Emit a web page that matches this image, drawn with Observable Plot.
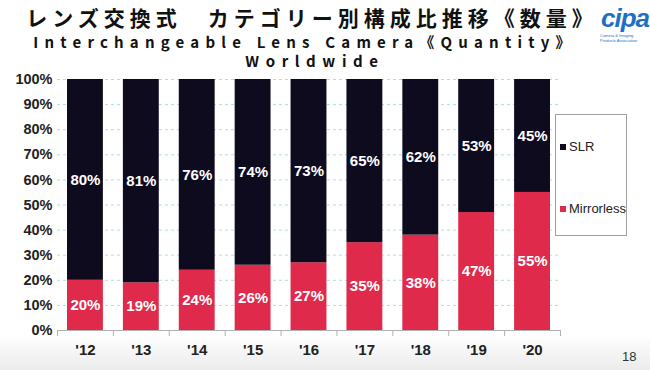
<!DOCTYPE html>
<html>
<head>
<meta charset="utf-8">
<script src="https://cdn.jsdelivr.net/npm/d3@7"></script>
<script src="https://cdn.jsdelivr.net/npm/@observablehq/plot@0.6"></script>
<style>
  html, body { margin: 0; padding: 0; }
  body { width: 650px; height: 370px; overflow: hidden; background: linear-gradient(#ffffff 0%, #ffffff 90%, #ececec 100%); font-family: "Liberation Sans", Arial, sans-serif; }
  #wrap { position: relative; width: 650px; height: 370px; }
  #chart { position: absolute; left: 0; top: 0; }
  .t { position: absolute; white-space: nowrap; color: #111; font-weight: bold; }
  #title { left: 0; width: 624px; text-align: center; top: 4px; font-family: "Noto Sans CJK JP", sans-serif; font-size: 21px; letter-spacing: 5px; line-height: 26px; }
  #sub1 { left: 0; width: 610px; text-align: center; top: 33px; font-family: "Noto Sans CJK JP", sans-serif; font-size: 15px; letter-spacing: 6.2px; line-height: 18px; }
  #sub2 { left: 0; width: 630px; text-align: center; top: 52px; font-family: "Noto Sans CJK JP", sans-serif; font-size: 15px; letter-spacing: 6.6px; line-height: 18px; }
  #logo { position: absolute; left: 601px; top: 3px; font-family: "Liberation Sans", Arial, sans-serif; font-style: italic; font-weight: bold; font-size: 26px; color: #1f6fc4; letter-spacing: -1px; }
  #logosub { position: absolute; left: 600px; top: 33px; font-size: 4px; color: #1f6fc4; }
  #legend { position: absolute; left: 555px; top: 114px; width: 72px; height: 122px; border: 1px solid #a0a0a0; box-sizing: border-box; background: #fff; }
  .li { position: absolute; left: 4px; font-size: 13px; color: #222; display: flex; align-items: center; }
  .sw { width: 6px; height: 6px; margin-right: 3px; }
  #page { position: absolute; left: 622px; top: 349px; font-size: 13px; color: #333; }
</style>
</head>
<body>
<div id="wrap">
  <div id="chart"></div>
  <div class="t" id="title">レンズ交換式　カテゴリー別構成比推移《数量》</div>
  <div class="t" id="sub1">Interchangeable Lens Camera《Quantity》</div>
  <div class="t" id="sub2">Worldwide</div>
  <div id="logo">cipa</div>
  <div id="logosub">Camera &amp; Imaging Products Association</div>
  <div id="legend"></div>
  <div id="page">18</div>
</div>
<script>
const years = ["'12", "'13", "'14", "'15", "'16", "'17", "'18", "'19", "'20"];
const mirrorless = [20, 19, 24, 26, 27, 35, 38, 47, 55];
const slr = [80, 81, 76, 74, 73, 65, 62, 53, 45];
const seriesNames = ["Mirrorless", "SLR"];
const seriesColors = ["#e02a4c", "#0e0b1f"];
const yTicks = [0, 10, 20, 30, 40, 50, 60, 70, 80, 90, 100];

const rows = [];
years.forEach((y, i) => {
  rows.push({i, year: y, series: "Mirrorless", value: mirrorless[i], y1: 0, y2: mirrorless[i]});
  rows.push({i, year: y, series: "SLR", value: slr[i], y1: mirrorless[i], y2: 100});
});

const chart = Plot.plot({
  width: 650,
  height: 370,
  marginLeft: 57,
  marginRight: 90,
  marginTop: 79,
  marginBottom: 40,
  style: {background: "transparent", fontFamily: "Liberation Sans, Arial, sans-serif"},
  x: {domain: [0, years.length], axis: null},
  y: {domain: [0, 100], axis: null},
  color: {domain: seriesNames, range: seriesColors},
  marks: [
    Plot.ruleY(yTicks.slice(1), {stroke: "#a8e2e2", strokeWidth: 1, strokeDasharray: "3,3"}),
    Plot.rectY(rows, {x1: d => d.i, x2: d => d.i + 1, y1: "y1", y2: "y2", fill: "series", insetLeft: 10, insetRight: 10}),
    Plot.text(rows, {x: d => d.i + 0.5, y: d => (d.y1 + d.y2) / 2, text: d => d.value + "%", fill: "white", fontSize: 15, fontWeight: "bold"}),
    Plot.ruleY([0], {stroke: "#b0b0b0", strokeWidth: 1.2}),
    Plot.axisX({ticks: d3.range(years.length + 1), tickSize: 6, tickFormat: () => "", stroke: "#b0b0b0"}),
    Plot.axisX({ticks: d3.range(years.length).map(i => i + 0.5), tickSize: 0, tickPadding: 14, tickFormat: d => years[Math.floor(d)], fontSize: 15, fontWeight: "bold", fill: "#222"}),
    Plot.axisY({ticks: yTicks, tickSize: 0, tickPadding: 5, tickFormat: d => d + "%", fontSize: 14.5, fill: "#222", fontWeight: "bold"})
  ]
});
document.getElementById("chart").appendChild(chart);

// legend
const legend = document.getElementById("legend");
[["SLR", 24], ["Mirrorless", 86]].forEach(([name, top]) => {
  const idx = seriesNames.indexOf(name);
  const item = document.createElement("div");
  item.className = "li";
  item.style.top = top + "px";
  const sw = document.createElement("div");
  sw.className = "sw";
  sw.style.background = seriesColors[idx];
  const label = document.createElement("span");
  label.textContent = name;
  item.appendChild(sw);
  item.appendChild(label);
  legend.appendChild(item);
});
</script>
</body>
</html>
